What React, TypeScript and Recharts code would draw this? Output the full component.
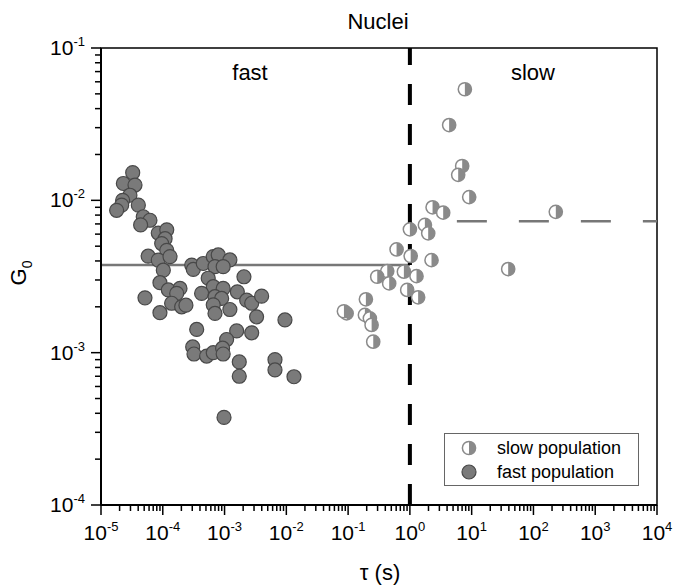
import React from "react";
import {
  ScatterChart,
  Scatter,
  XAxis,
  YAxis,
  ReferenceLine,
  ReferenceArea,
  Legend,
} from "recharts";

const FONT = '"Liberation Sans", Arial, Helvetica, sans-serif';

// fast population: correlation time tau (s) and amplitude G0
const fastTau = [
  3.26e-5, 2.3e-5, 3.55e-5, 2.94e-5, 2.24e-5, 2.16e-5, 1.79e-5, 4.02e-5, 4.83e-5, 6.2e-5,
  4.38e-5, 8.45e-5, 1.16e-4, 1.09e-4, 9.6e-5, 1.16e-4, 5.8e-5, 8.45e-5, 1.31e-4, 1.02e-4,
  9.0e-5, 1.23e-4, 1.9e-4, 1.68e-4, 5.15e-5, 1.39e-4, 2.02e-4, 2.37e-4, 9.0e-5, 2.94e-4,
  3.12e-4, 4.52e-4, 6.56e-4, 7.9e-4, 1.22e-3, 7.0e-4, 9.5e-4, 5.44e-4, 6.56e-4, 9.5e-4,
  2.06e-3, 4.25e-4, 7.0e-4, 8.97e-4, 6.56e-4, 7.0e-4, 1.22e-3, 1.61e-3, 2.28e-3, 2.75e-3,
  3.98e-3, 3.3e-3, 9.5e-3, 3.54e-4, 1.57e-3, 2.75e-3, 1.08e-3, 3.05e-4, 3.2e-4, 5.13e-4,
  6.56e-4, 9.3e-4, 9.5e-4, 1.73e-3, 1.73e-3, 6.55e-3, 6.55e-3, 1.33e-2, 9.8e-4,
];
const fastG0 = [
  1.52e-2, 1.29e-2, 1.26e-2, 1.08e-2, 1.0e-2, 9.3e-3, 8.6e-3, 9.3e-3, 7.8e-3, 7.4e-3,
  6.9e-3, 6.1e-3, 6.4e-3, 5.6e-3, 5.2e-3, 4.7e-3, 4.3e-3, 4.05e-3, 4.27e-3, 3.48e-3,
  2.88e-3, 2.58e-3, 2.64e-3, 2.45e-3, 2.29e-3, 2.11e-3, 2.0e-3, 2.05e-3, 1.83e-3, 3.76e-3,
  3.52e-3, 3.85e-3, 4.27e-3, 4.38e-3, 4.06e-3, 3.67e-3, 3.67e-3, 3.08e-3, 2.71e-3, 2.64e-3,
  3.15e-3, 2.45e-3, 2.33e-3, 2.27e-3, 2.06e-3, 1.81e-3, 1.92e-3, 2.51e-3, 2.21e-3, 2.11e-3,
  2.35e-3, 1.72e-3, 1.64e-3, 1.42e-3, 1.39e-3, 1.35e-3, 1.22e-3, 1.09e-3, 9.8e-4, 9.5e-4,
  1.0e-3, 1.07e-3, 9.8e-4, 8.7e-4, 7.0e-4, 9.0e-4, 7.7e-4, 6.95e-4, 3.76e-4,
];

// slow population
const slowTau = [
  7.76, 4.32, 7.02, 6.05, 9.12, 2.33, 3.46, 1.75, 1.0, 1.98,
  0.609, 1.03, 2.24, 0.43, 0.296, 0.462, 0.8, 1.28, 0.904, 1.36,
  0.194, 0.0946, 0.0855, 0.187, 0.225, 0.24, 0.255, 230, 39,
];
const slowG0 = [
  5.36e-2, 3.12e-2, 1.68e-2, 1.47e-2, 1.05e-2, 9.0e-3, 8.3e-3, 6.9e-3, 6.45e-3, 6.07e-3,
  4.76e-3, 4.31e-3, 4.05e-3, 3.43e-3, 3.15e-3, 2.85e-3, 3.4e-3, 3.18e-3, 2.58e-3, 2.31e-3,
  2.24e-3, 1.81e-3, 1.87e-3, 1.77e-3, 1.68e-3, 1.52e-3, 1.18e-3, 8.4e-3, 3.54e-3,
];

// population means and the fast/slow boundary
const FAST_MEAN = 3.76e-3;
const SLOW_MEAN = 7.3e-3;
const SLOW_MEAN_FROM = 5.76;
const SPLIT_TAU = 1;

const X_DECADES = [-5, -4, -3, -2, -1, 0, 1, 2, 3, 4];
const Y_DECADES = [-4, -3, -2, -1];
const MINOR = [2, 3, 4, 5, 6, 7, 8, 9];

const logTicks = (decades: number[]) => {
  const out: number[] = [];
  decades.forEach((d, i) => {
    out.push(Math.pow(10, d));
    if (i < decades.length - 1) MINOR.forEach((m) => out.push(m * Math.pow(10, d)));
  });
  return out;
};

const xTicks = logTicks(X_DECADES);
const yTicks = logTicks(Y_DECADES);

const fastData = fastTau.map((tau, i) => ({ tau, g0: fastG0[i] }));
const slowData = slowTau.map((tau, i) => ({ tau, g0: slowG0[i] }));

const exponent = (v: number) => Math.round(Math.log10(v));
const isMajor = (v: number) => Math.abs(Math.log10(v) - exponent(v)) < 1e-6;

const XTick = ({ x, y, payload }: any) => {
  const v = payload.value;
  const major = isMajor(v);
  return (
    <g>
      <line x1={x} x2={x} y1={y} y2={y + (major ? 10 : 6)} stroke="#000" strokeWidth={1.5} />
      {major && (
        <text x={x} y={y + 35} textAnchor="middle" fontSize={21} fontFamily={FONT} fill="#000">
          10
          <tspan dy={-9} fontSize={13}>
            {exponent(v)}
          </tspan>
        </text>
      )}
    </g>
  );
};

const YTick = ({ x, y, payload }: any) => {
  const v = payload.value;
  const major = isMajor(v);
  return (
    <g>
      <line x1={x} x2={x - (major ? 10 : 6)} y1={y} y2={y} stroke="#000" strokeWidth={1.5} />
      {major && (
        <text x={x - 16} y={y + 7} textAnchor="end" fontSize={21} fontFamily={FONT} fill="#000">
          10
          <tspan dy={-9} fontSize={13}>
            {exponent(v)}
          </tspan>
        </text>
      )}
    </g>
  );
};

const FastDot = ({ cx, cy }: any) => (
  <circle cx={cx} cy={cy} r={7} fill="#7a7a7a" stroke="#484848" strokeWidth={1.2} />
);

const SlowDot = ({ cx, cy }: any) => {
  const r = 6.6;
  return (
    <g>
      <circle cx={cx} cy={cy} r={r} fill="#fff" />
      <path d={`M${cx},${cy - r} A${r},${r} 0 0 1 ${cx},${cy + r} Z`} fill="#8a8a8a" />
      <circle cx={cx} cy={cy} r={r} fill="none" stroke="#8a8a8a" strokeWidth={1.5} />
    </g>
  );
};

const LegendBox = () => (
  <div
    style={{
      width: 195,
      height: 53,
      boxSizing: "border-box",
      border: "1px solid #666",
      background: "#fff",
    }}
  >
    <svg width={193} height={51} style={{ display: "block" }}>
      <SlowDot cx={24} cy={14} />
      <text x={52} y={20} fontSize={18} fontFamily={FONT} fill="#000">
        slow population
      </text>
      <FastDot cx={24} cy={38} />
      <text x={52} y={44} fontSize={18} fontFamily={FONT} fill="#000">
        fast population
      </text>
    </svg>
  </div>
);

export default function App() {
  return (
    <div
      style={{
        position: "absolute",
        left: 0,
        top: 0,
        width: 675,
        height: 587,
        background: "#fff",
        fontFamily: FONT,
      }}
    >
      <ScatterChart width={675} height={587} margin={{ top: 48, right: 18, bottom: 0, left: 0 }}>
        <XAxis
          dataKey="tau"
          type="number"
          scale="log"
          domain={[1e-5, 1e4]}
          ticks={xTicks}
          interval={0}
          allowDataOverflow
          height={82}
          tickSize={0}
          tickMargin={0}
          tickLine={false}
          tick={<XTick />}
          axisLine={{ stroke: "#000", strokeWidth: 2 }}
        />
        <YAxis
          dataKey="g0"
          type="number"
          scale="log"
          domain={[1e-4, 1e-1]}
          ticks={yTicks}
          interval={0}
          allowDataOverflow
          width={101}
          tickSize={0}
          tickMargin={0}
          tickLine={false}
          tick={<YTick />}
          axisLine={{ stroke: "#000", strokeWidth: 2 }}
        />
        <ReferenceArea
          x1={1e-5}
          x2={1e4}
          y1={1e-4}
          y2={1e-1}
          fill="none"
          fillOpacity={0}
          stroke="#000"
          strokeWidth={1.5}
        />
        <ReferenceLine
          segment={[
            { x: 1e-5, y: FAST_MEAN },
            { x: SPLIT_TAU, y: FAST_MEAN },
          ]}
          stroke="#777"
          strokeWidth={2.5}
        />
        <ReferenceLine
          segment={[
            { x: SLOW_MEAN_FROM, y: SLOW_MEAN },
            { x: 1e4, y: SLOW_MEAN },
          ]}
          stroke="#777"
          strokeWidth={2.5}
          strokeDasharray="30 32"
        />
        <Scatter data={fastData} shape={<FastDot />} isAnimationActive={false} />
        <Scatter data={slowData} shape={<SlowDot />} isAnimationActive={false} />
        <ReferenceLine x={SPLIT_TAU} stroke="#000" strokeWidth={4} strokeDasharray="21 19" />
        <Legend
          layout="horizontal"
          verticalAlign="middle"
          align="center"
          wrapperStyle={{ left: 444, top: 433, width: 195, height: 53 }}
          content={<LegendBox />}
        />
      </ScatterChart>
      <svg
        width={675}
        height={587}
        style={{ position: "absolute", left: 0, top: 0, pointerEvents: "none" }}
      >
        <text x={378} y={29} textAnchor="middle" fontSize={22} fontFamily={FONT} fill="#000">
          Nuclei
        </text>
        <text x={250} y={80} textAnchor="middle" fontSize={22} fontFamily={FONT} fill="#000">
          fast
        </text>
        <text x={533} y={80} textAnchor="middle" fontSize={22} fontFamily={FONT} fill="#000">
          slow
        </text>
        <text x={380} y={580} textAnchor="middle" fontSize={22} fontFamily={FONT} fill="#000">
          τ (s)
        </text>
        <text
          transform="translate(26,273) rotate(-90)"
          textAnchor="middle"
          fontSize={22}
          fontFamily={FONT}
          fill="#000"
        >
          G
          <tspan dy={6} fontSize={14}>
            0
          </tspan>
        </text>
      </svg>
    </div>
  );
}
